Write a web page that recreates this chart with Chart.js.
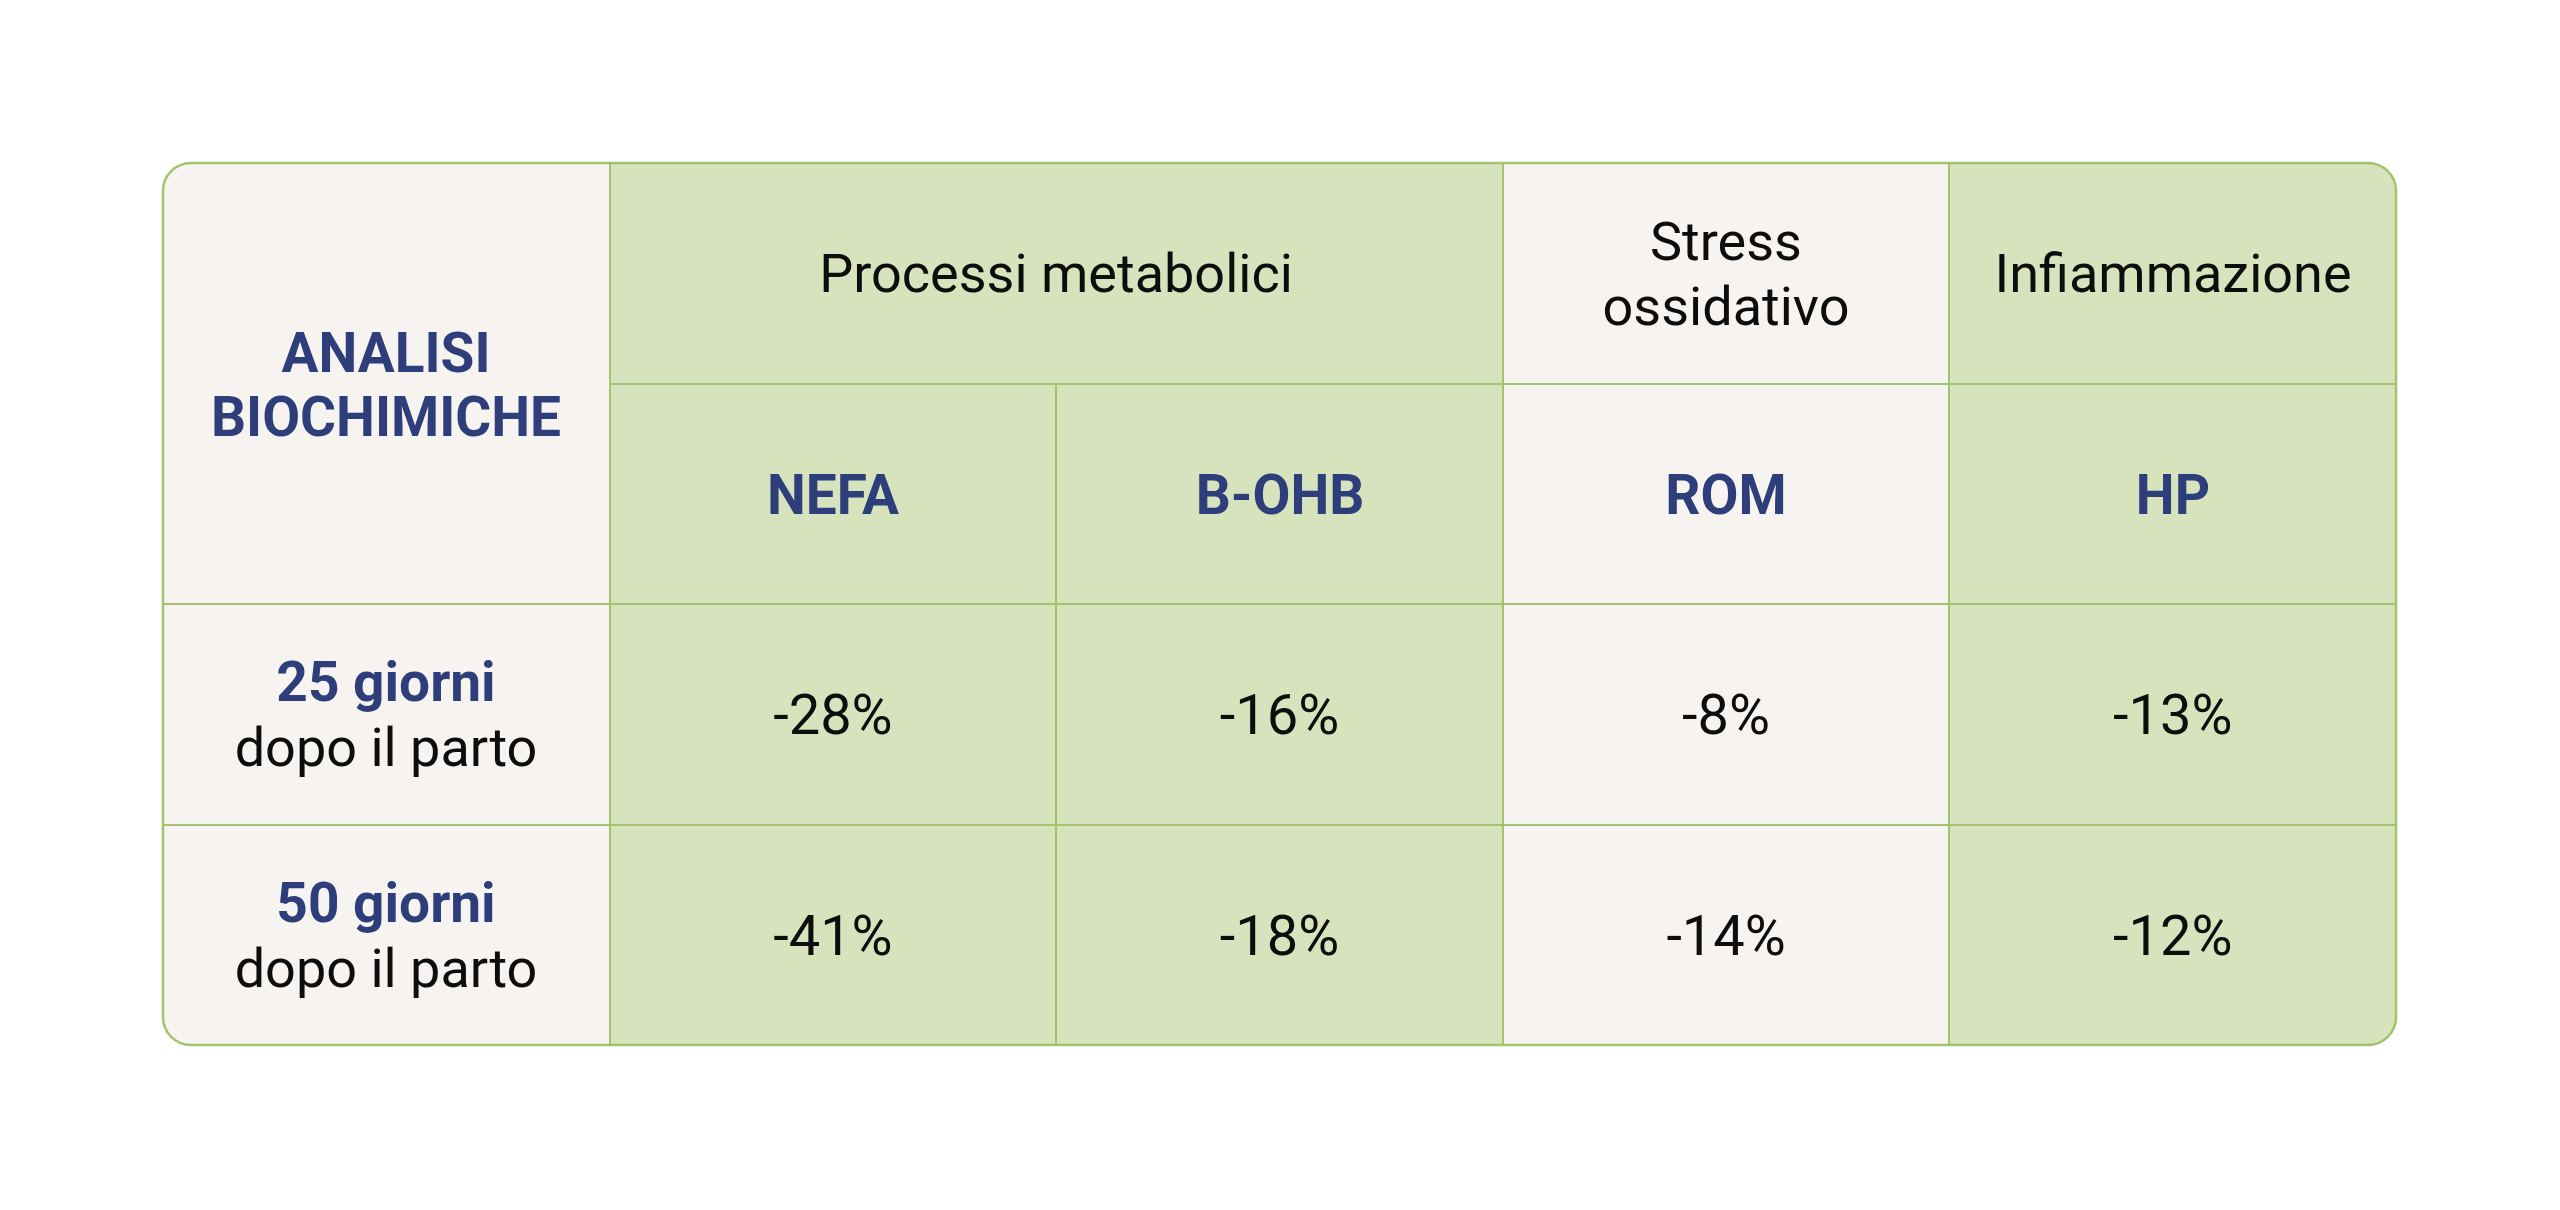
<!DOCTYPE html>
<html lang="it">
<head>
<meta charset="utf-8">
<title>Analisi biochimiche</title>
<script src="https://cdn.jsdelivr.net/npm/chart.js@4.4.1/dist/chart.umd.min.js"></script>
<style>
  html, body { margin: 0; padding: 0; background: #fff; }
  #wrap { width: 2560px; height: 1210px; }
</style>
</head>
<body>
<div id="wrap"><canvas id="chart"></canvas></div>
<script>
"use strict";

// table content
const cornerTitle = ["ANALISI", "BIOCHIMICHE"];
const groups = [["Processi metabolici"], ["Stress", "ossidativo"], ["Infiammazione"]];
const groupSpans = [2, 1, 1];
const markers = ["NEFA", "B-OHB", "ROM", "HP"];
const periods = ["25 giorni", "50 giorni"];
const periodNote = "dopo il parto";
const day25 = [-28, -16, -8, -13];
const day50 = [-41, -18, -14, -12];

const BEIGE = "#f6f3f0";
const GREEN = "#d6e3bd";
const LINE = "#a3c46e";
const NAVY = "#2d3e7a";
const INK = "#0d0d0d";
const columnFills = [BEIGE, GREEN, GREEN, BEIGE, GREEN];

function roundedRect(ctx, x, y, w, h, r) {
  ctx.beginPath();
  ctx.moveTo(x + r, y);
  ctx.lineTo(x + w - r, y);
  ctx.arcTo(x + w, y, x + w, y + r, r);
  ctx.lineTo(x + w, y + h - r);
  ctx.arcTo(x + w, y + h, x + w - r, y + h, r);
  ctx.lineTo(x + r, y + h);
  ctx.arcTo(x, y + h, x, y + h - r, r);
  ctx.lineTo(x, y + r);
  ctx.arcTo(x, y, x + r, y, r);
  ctx.closePath();
}

// lines centred as a block on cy, using cap height for the visual middle
function drawLines(ctx, lines, cx, cy, size, pitch) {
  ctx.textAlign = "center";
  ctx.textBaseline = "alphabetic";
  const first = cy - (lines.length - 1) * pitch / 2 + size * 0.711 / 2;
  lines.forEach((ln, i) => ctx.fillText(ln, cx, first + i * pitch));
}

const tablePlugin = {
  id: "table",
  beforeDatasetsDraw(chart) {
    const ctx = chart.ctx;
    const area = chart.chartArea;
    const px = v => Math.round(chart.scales.x.getPixelForValue(v));
    const py = v => Math.round(chart.scales.y.getPixelForValue(v));

    ctx.save();
    roundedRect(ctx, area.left, area.top, area.width, area.height, 28);
    ctx.clip();
    // fill runs of same-coloured columns in one go (no seams)
    let start = 0;
    for (let c = 1; c <= columnFills.length; c++) {
      if (c === columnFills.length || columnFills[c] !== columnFills[start]) {
        ctx.fillStyle = columnFills[start];
        ctx.fillRect(px(start), area.top, px(c) - px(start), area.height);
        start = c;
      }
    }

    ctx.strokeStyle = LINE;
    ctx.lineWidth = 2;
    ctx.beginPath();
    // vertical lines (col 2 boundary starts under the group header)
    for (let c = 1; c < columnFills.length; c++) {
      const top = c === 2 ? py(1) : py(0);
      ctx.moveTo(px(c), top);
      ctx.lineTo(px(c), py(4));
    }
    // horizontal lines (row 1 boundary not under corner title)
    ctx.moveTo(px(1), py(1));
    ctx.lineTo(px(5), py(1));
    for (let r = 2; r < 4; r++) {
      ctx.moveTo(px(0), py(r));
      ctx.lineTo(px(5), py(r));
    }
    ctx.stroke();
    ctx.restore();

    ctx.save();
    ctx.strokeStyle = LINE;
    ctx.lineWidth = 2.5;
    roundedRect(ctx, area.left, area.top, area.width, area.height, 28);
    ctx.stroke();

    // corner title
    ctx.fillStyle = NAVY;
    ctx.font = "700 55px Roboto";
    drawLines(ctx, cornerTitle, px(0.5), py(1), 55, 64);

    // group headers
    ctx.fillStyle = INK;
    ctx.font = "400 54px Roboto";
    let col = 1;
    groups.forEach((g, i) => {
      drawLines(ctx, g, px(col + groupSpans[i] / 2), py(0.5), 54, 65);
      col += groupSpans[i];
    });

    // marker headers
    ctx.fillStyle = NAVY;
    ctx.font = "700 55px Roboto";
    markers.forEach((m, i) => drawLines(ctx, [m], px(i + 1.5), py(1.5), 55, 65));

    // period labels
    periods.forEach((p, i) => {
      const cy = py(i + 2.5);
      const first = cy - 65 / 2 + 54 * 0.711 / 2;
      ctx.textAlign = "center";
      ctx.textBaseline = "alphabetic";
      ctx.fillStyle = NAVY;
      ctx.font = "700 55px Roboto";
      ctx.fillText(p, px(0.5), first);
      ctx.fillStyle = INK;
      ctx.font = "400 54px Roboto";
      ctx.fillText(periodNote, px(0.5), first + 65);
    });
    ctx.restore();
  },
  afterDatasetsDraw(chart) {
    const ctx = chart.ctx;
    ctx.save();
    ctx.fillStyle = INK;
    ctx.font = "400 56px Roboto";
    chart.data.datasets.forEach((ds, d) => {
      const meta = chart.getDatasetMeta(d);
      meta.data.forEach((pt, i) => {
        drawLines(ctx, [ds.data[i].v + "%"], pt.x, pt.y, 56, 65);
      });
    });
    ctx.restore();
  }
};

function cellPoints(values, row) {
  return values.map((v, i) => ({ x: i + 1.5, y: row + 0.5, v: v }));
}

new Chart(document.getElementById("chart"), {
  type: "scatter",
  data: {
    datasets: [
      { label: periods[0], data: cellPoints(day25, 2), pointRadius: 0 },
      { label: periods[1], data: cellPoints(day50, 3), pointRadius: 0 }
    ]
  },
  options: {
    responsive: true,
    maintainAspectRatio: false,
    animation: false,
    layout: { padding: { left: 163, right: 164, top: 163, bottom: 165 } },
    scales: {
      x: { type: "linear", min: 0, max: 5, display: false },
      y: { type: "linear", min: 0, max: 4, reverse: true, display: false }
    },
    plugins: {
      legend: { display: false },
      tooltip: { enabled: false }
    }
  },
  plugins: [tablePlugin]
});
</script>
</body>
</html>
